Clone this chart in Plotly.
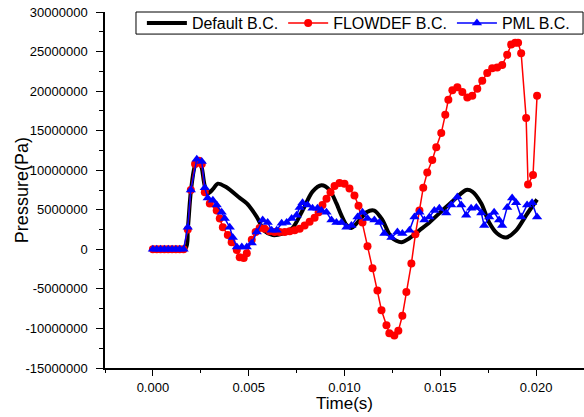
import plotly.graph_objects as go

# ---- data (time in s, pressure in Pa) ----
default_t = [0.0, 0.0017, 0.00182, 0.00198, 0.00220, 0.00240, 0.00255, 0.00271, 0.00290, 0.00313,
             0.00339, 0.00380, 0.00453, 0.00490, 0.00542, 0.00583, 0.00625, 0.00677, 0.00729, 0.00781,
             0.00833, 0.00880, 0.00922, 0.00958, 0.00984, 0.01010, 0.01036, 0.01068, 0.01115, 0.01156,
             0.01198, 0.01245, 0.01297, 0.01339, 0.01391, 0.01443, 0.01510, 0.01583, 0.01635, 0.01667,
             0.01714, 0.01755, 0.01797, 0.01844, 0.01896, 0.01948, 0.02005]
default_p = [0.0, 0.1e6, 2.5e6, 7.3e6, 10.6e6, 11.2e6, 10.3e6, 8.0e6, 7.1e6, 7.6e6,
             8.3e6, 7.9e6, 6.5e6, 5.8e6, 4.1e6, 2.3e6, 1.8e6, 2.0e6, 2.7e6, 4.9e6,
             7.3e6, 8.1e6, 7.5e6, 5.8e6, 4.3e6, 3.1e6, 2.7e6, 3.4e6, 4.7e6, 4.9e6,
             3.7e6, 1.5e6, 0.9e6, 1.4e6, 2.4e6, 3.4e6, 4.9e6, 6.5e6, 7.5e6, 7.3e6,
             5.8e6, 3.4e6, 2.0e6, 1.5e6, 2.4e6, 4.3e6, 6.3e6]

flowdef_t = [0.0, 0.0002, 0.0004, 0.0006, 0.0008, 0.0010, 0.0012, 0.0014, 0.0016,
             0.00182, 0.00198, 0.00220, 0.00240, 0.00255, 0.00271, 0.00297, 0.00333, 0.00349, 0.00365,
             0.00391, 0.00411, 0.00438, 0.00453, 0.00474, 0.00490, 0.00516, 0.00536, 0.00557, 0.00583,
             0.00609, 0.00635, 0.00661, 0.00688, 0.00714, 0.00740, 0.00766, 0.00792, 0.00818, 0.00844,
             0.00865, 0.00885, 0.00906, 0.00927, 0.00948, 0.00974, 0.01000, 0.01026, 0.01052, 0.01073,
             0.01094, 0.01120, 0.01146, 0.01172, 0.01193, 0.01219, 0.01234, 0.01260, 0.01281, 0.01302,
             0.01323, 0.01349, 0.01370, 0.01391, 0.01411, 0.01432, 0.01458, 0.01479, 0.01505, 0.01526,
             0.01542, 0.01563, 0.01589, 0.01615, 0.01641, 0.01667, 0.01693, 0.01719, 0.01745, 0.01771,
             0.01797, 0.01823, 0.01849, 0.01870, 0.01891, 0.01906, 0.01922, 0.01948, 0.01958, 0.01984,
             0.02005]
flowdef_p = [0.0, 0.0, 0.0, 0.0, 0.0, 0.0, 0.0, 0.0, 0.0,
             2.5e6, 7.5e6, 10.8e6, 11.2e6, 10.8e6, 7.2e6, 5.8e6, 4.9e6, 3.9e6, 2.8e6,
             1.8e6, 0.9e6, -0.1e6, -1.0e6, -1.1e6, -0.5e6, 1.2e6, 2.2e6, 2.7e6, 2.6e6,
             2.3e6, 2.2e6, 2.2e6, 2.2e6, 2.3e6, 2.4e6, 2.6e6, 3.0e6, 3.5e6, 4.0e6,
             4.7e6, 5.6e6, 6.4e6, 7.2e6, 8.0e6, 8.4e6, 8.3e6, 7.7e6, 6.8e6, 5.5e6,
             3.4e6, 0.4e6, -2.4e6, -5.2e6, -7.7e6, -9.6e6, -10.6e6, -10.9e6, -10.3e6, -8.4e6,
             -5.4e6, -1.8e6, 1.9e6, 4.9e6, 7.8e6, 9.7e6, 11.3e6, 12.9e6, 14.7e6, 17.0e6,
             18.9e6, 20.1e6, 20.5e6, 19.9e6, 19.2e6, 19.4e6, 20.3e6, 21.3e6, 22.3e6, 22.9e6,
             23.0e6, 23.3e6, 24.6e6, 25.9e6, 26.1e6, 26.1e6, 24.8e6, 16.6e6, 8.2e6, 9.4e6,
             19.4e6]

pml_t = [0.0, 0.0002, 0.0004, 0.0006, 0.0008, 0.0010, 0.0012, 0.0014, 0.0016,
         0.00182, 0.00198, 0.00229, 0.00255, 0.00271, 0.00286, 0.00313, 0.00333, 0.00359, 0.00375,
         0.00401, 0.00417, 0.00438, 0.00464, 0.00490, 0.00516, 0.00542, 0.00573, 0.00599, 0.00620,
         0.00646, 0.00672, 0.00698, 0.00724, 0.00750, 0.00766, 0.00781, 0.00807, 0.00833, 0.00859,
         0.00880, 0.00906, 0.00932, 0.00958, 0.00984, 0.01010, 0.01036, 0.01068, 0.01094, 0.01120,
         0.01156, 0.01182, 0.01208, 0.01245, 0.01276, 0.01302, 0.01339, 0.01365, 0.01391, 0.01417,
         0.01443, 0.01469, 0.01495, 0.01531, 0.01557, 0.01589, 0.01609, 0.01635, 0.01661, 0.01688,
         0.01714, 0.01729, 0.01755, 0.01781, 0.01807, 0.01823, 0.01849, 0.01875, 0.01896, 0.01922,
         0.01953, 0.01979, 0.02005]
pml_p = [0.0, 0.0, 0.0, 0.0, 0.0, 0.0, 0.0, 0.0, 0.0,
         2.8e6, 7.5e6, 11.4e6, 11.1e6, 7.8e6, 6.5e6, 6.2e6, 5.6e6, 4.7e6, 3.9e6,
         2.8e6, 1.5e6, 0.3e6, 0.3e6, 0.3e6, 0.8e6, 2.2e6, 3.7e6, 3.4e6, 2.4e6,
         2.4e6, 3.3e6, 3.4e6, 3.9e6, 4.3e6, 5.3e6, 5.9e6, 5.6e6, 5.2e6, 5.2e6,
         4.9e6, 4.7e6, 3.7e6, 3.4e6, 3.4e6, 2.8e6, 3.0e6, 4.1e6, 4.7e6, 3.9e6,
         3.7e6, 3.4e6, 2.0e6, 1.5e6, 2.2e6, 2.0e6, 2.4e6, 4.1e6, 4.7e6, 3.7e6,
         4.1e6, 4.9e6, 5.2e6, 4.6e6, 5.6e6, 6.6e6, 5.6e6, 4.3e6, 5.2e6, 5.3e6,
         4.6e6, 3.0e6, 4.1e6, 4.7e6, 3.7e6, 3.0e6, 5.3e6, 6.5e6, 5.9e6, 4.1e6,
         5.6e6, 5.9e6, 4.1e6]

x_ticks = [0.000, 0.005, 0.010, 0.015, 0.020]
x_labels = ["0.000", "0.005", "0.010", "0.015", "0.020"]
y_ticks = [-15000000, -10000000, -5000000, 0, 5000000, 10000000, 15000000, 20000000, 25000000, 30000000]
y_labels = ["-15000000", "-10000000", "-5000000", "0", "5000000", "10000000", "15000000",
            "20000000", "25000000", "30000000"]

FONT = "Liberation Sans, Arial, sans-serif"

fig = go.Figure()
fig.add_trace(go.Scatter(x=default_t, y=default_p, mode="lines", name="Default B.C.",
                         line=dict(color="black", width=4, shape="spline", smoothing=0.8)))
fig.add_trace(go.Scatter(x=flowdef_t, y=flowdef_p, mode="lines+markers", name="FLOWDEF B.C.",
                         line=dict(color="#ff0000", width=1.5),
                         marker=dict(symbol="circle", size=8, color="#ff0000")))
fig.add_trace(go.Scatter(x=pml_t, y=pml_p, mode="lines+markers", name="PML B.C.",
                         line=dict(color="#0000ff", width=1.5),
                         marker=dict(symbol="triangle-up", size=9, color="#0000ff")))

axis_font = dict(family=FONT, size=13, color="black")
fig.update_layout(
    width=584, height=417,
    margin=dict(l=105, r=0, t=12, b=49, autoexpand=False),
    paper_bgcolor="white", plot_bgcolor="white",
    font=dict(family=FONT, color="black"),
    showlegend=True,
    legend=dict(orientation="h", x=0.077, xanchor="left", y=0.969, yanchor="middle",
                borderwidth=0, bgcolor="rgba(0,0,0,0)",
                font=dict(family=FONT, size=16, color="black"),
                itemwidth=40, tracegroupgap=0),
    shapes=[dict(type="rect", xref="paper", yref="paper", x0=0.0647, x1=0.998, y0=0.938, y1=1.0,
                 line=dict(color="black", width=1), fillcolor="white", layer="above")],
    annotations=[
        dict(text="Pressure(Pa)", xref="paper", yref="paper", x=-0.173, y=0.5,
             xanchor="center", yanchor="middle", textangle=-90, showarrow=False,
             font=dict(family=FONT, size=18, color="black")),
        dict(text="Time(s)", xref="paper", yref="paper", x=0.5, y=-0.101,
             xanchor="center", yanchor="middle", showarrow=False,
             font=dict(family=FONT, size=17, color="black")),
    ],
    xaxis=dict(range=[-0.0025, 0.0225], tickvals=x_ticks, ticktext=x_labels,
               showgrid=False, zeroline=False, showline=True, linecolor="black", linewidth=1.5,
               ticks="outside", ticklen=6, tickwidth=1.2, tickcolor="black", tickfont=axis_font,
               ticklabelstandoff=1, ticklabeloverflow="allow",
               minor=dict(dtick=0.0025, tick0=0, ticks="outside", ticklen=3, tickcolor="black", showgrid=False)),
    yaxis=dict(range=[-15000000, 30000000], tickvals=y_ticks, ticktext=y_labels,
               showgrid=False, zeroline=False, showline=True, linecolor="black", linewidth=1.5,
               ticks="outside", ticklen=7, tickwidth=1.2, tickcolor="black", tickfont=axis_font,
               ticklabelstandoff=6, ticklabeloverflow="allow",
               minor=dict(dtick=2500000, tick0=0, ticks="outside", ticklen=4, tickcolor="black", showgrid=False)),
)

fig.write_html("out.html", config={"displayModeBar": False},
               post_script="document.body.style.margin='0';")
